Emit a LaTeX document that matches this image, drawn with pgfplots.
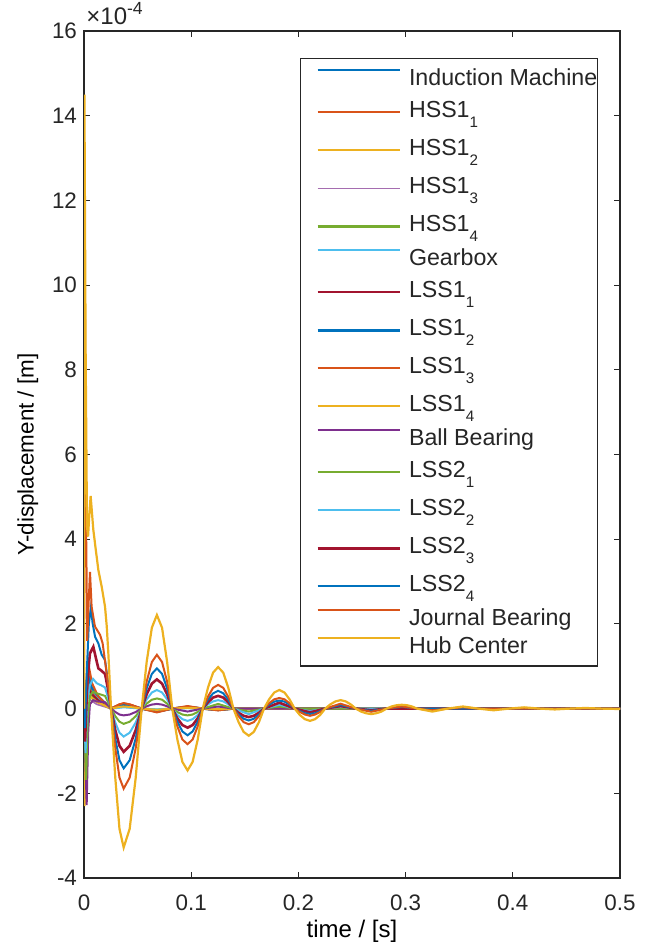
\documentclass[border=0pt]{standalone}
\usepackage{fontspec}
\setmainfont{Liberation Sans}
\usepackage{pgfplots}
\pgfplotsset{compat=1.18}
\definecolor{mblue}{rgb}{0,0.447,0.741}
\definecolor{morange}{rgb}{0.85,0.325,0.098}
\definecolor{myellow}{rgb}{0.929,0.694,0.125}
\definecolor{mpurple}{rgb}{0.494,0.184,0.556}
\definecolor{mgreen}{rgb}{0.466,0.674,0.188}
\definecolor{mcyan}{rgb}{0.301,0.745,0.933}
\definecolor{mred}{rgb}{0.635,0.078,0.184}
\newcommand{\fs}{\fontsize{11.2}{13}\selectfont}
\newcommand{\fx}{\fontsize{12}{14}\selectfont}
\newcommand{\fl}{\fontsize{11.6}{13}\selectfont}
\newcommand{\sE}[2]{#1\raisebox{-5pt}{\fontsize{7.6}{8}\selectfont #2}}
\tikzset{pl/.style={text height=10.5pt,text depth=3.5pt}, sb/.style={text height=12.5pt,text depth=6.5pt}}
\pgfplotsset{sbimg/.style={legend image post style={yshift=-4.5pt}}}
\begin{document}
\begin{tikzpicture}
\begin{axis}[
  scale only axis, width=268pt, height=423.5pt,
  xmin=0, xmax=0.5, ymin=-4, ymax=16,
  xtick={0,0.1,0.2,0.3,0.4,0.5}, xticklabels={0,0.1,0.2,0.3,0.4,0.5},
  ytick={-4,-2,0,2,4,6,8,10,12,14,16}, yticklabels={-4,-2,0,2,4,6,8,10,12,14,16},
  tick align=inside, tick pos=both, major tick length=3pt,
  tick style={black!85, line width=0.5pt},
  axis line style={black!85, line width=0.6pt},
  tick label style={font=\fs, text=black!85},
  xticklabel style={yshift=-5pt},
  label style={text=black!85},
  xlabel={time / [s]}, ylabel={Y-displacement / [m]},
  every axis x label/.style={at={(axis description cs:0.5,-0.0625)}, anchor=center, font=\fx},
  every axis y label/.style={at={(axis description cs:-0.105,0.5)}, rotate=90, anchor=center, font=\fs},
  legend style={at={(0.959,0.968)}, anchor=north east, draw=black!85, line width=0.7pt,
    font=\fl, text=black!85, inner xsep=0pt, inner ysep=2.75pt, row sep=0pt, column sep=4pt,
    nodes={inner sep=0pt}},
  legend cell align=left,
  legend image code/.code={\path[draw=none,fill=none] (0pt,0pt) -- (0pt,4pt); \draw[#1] (8.5pt,4pt) -- (49.5pt,4pt);},
  every axis plot/.append style={line width=1pt},
]
% Induction Machine
\addplot[mblue] coordinates {(0,0) (0.0007,-0.9) (0.002,0.3) (0.004,0.6) (0.007,0.35) (0.012,0.2) (0.018,0.12) (0.0252,0) (0.0331,0.08) (0.0370,0.10) (0.0426,0.08) (0.0538,0) (0.0680,-0.07) (0.0823,0) (0.0966,0.04) (0.1108,0) (0.1251,-0.03) (0.1394,0) (0.5,0)};
\addlegendentry[pl]{Induction Machine}
% HSS1_1
\addplot[morange, sbimg] coordinates {(0,0) (0.0006,-2.25) (0.0015,0.4) (0.003,0.9) (0.006,0.5) (0.012,0.25) (0.018,0.15) (0.0252,0) (0.0331,0.10) (0.0370,0.12) (0.0426,0.10) (0.0538,0) (0.0680,-0.08) (0.0823,0) (0.0966,0.05) (0.1108,0) (0.1251,-0.04) (0.1394,0) (0.5,0)};
\addlegendentry[sb]{\sE{HSS1}{1}}
% HSS1_2
\addplot[myellow, sbimg] coordinates {(0,0) (0.0006,-2.3) (0.0015,-0.2) (0.003,0.5) (0.006,0.3) (0.012,0.15) (0.018,0.1) (0.0252,0) (0.0331,0.06) (0.0370,0.08) (0.0426,0.06) (0.0538,0) (0.0680,-0.05) (0.0823,0) (0.0966,0.035) (0.1108,0) (0.1251,-0.02) (0.1394,0) (0.5,0)};
\addlegendentry[sb]{\sE{HSS1}{2}}
% HSS1_3
\addplot[mpurple!70, line width=0.8pt, sbimg] coordinates {(0,0) (0.001,-0.4) (0.003,0.3) (0.006,0.2) (0.012,0.1) (0.0252,0) (0.0331,0.05) (0.0370,0.06) (0.0426,0.05) (0.0538,0) (0.0680,-0.04) (0.0823,0) (0.0966,0.03) (0.1108,0) (0.1251,-0.02) (0.1394,0) (0.5,0)};
\addlegendentry[sb]{\sE{HSS1}{3}}
% HSS1_4
\addplot[mgreen, line width=1.2pt, sbimg] coordinates {(0,0) (0.001,-1.0) (0.0035,0.5) (0.0065,0.35) (0.012,0.2) (0.018,0.1) (0.0252,0) (0.0331,0.04) (0.0370,0.05) (0.0426,0.04) (0.0538,0) (0.0680,-0.03) (0.0823,0) (0.0966,0.02) (0.1108,0) (0.1251,-0.015) (0.1394,0) (0.5,0)};
\addlegendentry[sb]{\sE{HSS1}{4}}
% Gearbox
\addplot[mcyan] coordinates {(0,0) (0.0012,-0.7) (0.0035,0.75) (0.0055,0.7) (0.009,0.4) (0.014,0.25) (0.02,0.12) (0.0252,0) (0.0331,0.02) (0.0370,0.03) (0.0426,0.02) (0.0538,0) (0.0680,-0.02) (0.0823,0) (0.0966,0.01) (0.1108,0) (0.5,0)};
\addlegendentry[pl]{Gearbox}
% LSS1_1
\addplot[mred, line width=0.9pt, sbimg] coordinates {(0,0) (0.001,-0.5) (0.0035,0.5) (0.007,0.35) (0.013,0.2) (0.02,0.1) (0.0252,0) (0.0331,0.06) (0.0370,0.08) (0.0426,0.06) (0.0538,0) (0.0680,-0.05) (0.0823,0) (0.0966,0.035) (0.1108,0) (0.1251,-0.02) (0.1394,0) (0.5,0)};
\addlegendentry[sb]{\sE{LSS1}{1}}
% LSS1_2
\addplot[mblue, line width=1.2pt, sbimg] coordinates {(0,0) (0.0008,-0.3) (0.004,0.8) (0.007,0.5) (0.013,0.3) (0.02,0.12) (0.0252,0) (0.0331,0.08) (0.0370,0.10) (0.0426,0.08) (0.0538,0) (0.0680,-0.07) (0.0823,0) (0.0966,0.04) (0.1108,0) (0.1251,-0.03) (0.1394,0) (0.5,0)};
\addlegendentry[sb]{\sE{LSS1}{2}}
% LSS1_3
\addplot[morange, sbimg] coordinates {(0,0) (0.0008,-0.4) (0.0045,1.0) (0.0075,0.6) (0.013,0.3) (0.02,0.12) (0.0252,0) (0.0331,0.10) (0.0370,0.13) (0.0426,0.10) (0.0538,0) (0.0680,-0.09) (0.0823,0) (0.0966,0.06) (0.1108,0) (0.1251,-0.04) (0.1394,0) (0.5,0)};
\addlegendentry[sb]{\sE{LSS1}{3}}
% LSS1_4
\addplot[myellow, sbimg] coordinates {(0,0) (0.0006,-0.6) (0.003,0.4) (0.007,0.25) (0.013,0.15) (0.0252,0) (0.0331,0.04) (0.0370,0.05) (0.0426,0.04) (0.0538,0) (0.0680,-0.03) (0.0823,0) (0.0966,0.02) (0.1108,0) (0.1251,-0.015) (0.1394,0) (0.5,0)};
\addlegendentry[sb]{\sE{LSS1}{4}}
% Ball Bearing
\addplot[mpurple] coordinates {(0,0) (0.0025,-2.28) (0.004,-0.5) (0.0055,0.1) (0.0085,0.2) (0.0118,0.17) (0.016,0.16) (0.0196,0.15) (0.0225,0.07) (0.0252,0) (0.0292,-0.08) (0.0331,-0.14) (0.0370,-0.16) (0.0426,-0.14) (0.0482,-0.08) (0.0538,0) (0.0585,0.055) (0.0633,0.095) (0.0680,0.11) (0.0728,0.095) (0.0775,0.055) (0.0823,0) (0.0966,-0.07) (0.1108,0) (0.1251,0.05) (0.1394,0) (0.5,0)};
\addlegendentry[pl]{Ball Bearing}
% LSS2_1
\addplot[mgreen, sbimg] coordinates {(0,0) (0.002,-1.68) (0.0035,-0.2) (0.0055,0.3) (0.0085,0.4) (0.0118,0.36) (0.016,0.33) (0.0196,0.3) (0.0225,0.15) (0.0252,0) (0.0292,-0.18) (0.0331,-0.31) (0.0370,-0.36) (0.0426,-0.31) (0.0482,-0.18) (0.0538,0) (0.0585,0.12) (0.0633,0.21) (0.0680,0.24) (0.0728,0.21) (0.0775,0.12) (0.0823,0) (0.0871,-0.08) (0.0918,-0.14) (0.0966,-0.16) (0.1013,-0.14) (0.1061,-0.08) (0.1108,0) (0.1251,0.11) (0.1394,0) (0.1537,-0.07) (0.1679,0) (0.1822,0.05) (0.1965,0) (0.5,0)};
\addlegendentry[sb]{\sE{LSS2}{1}}
% LSS2_2
\addplot[mcyan, sbimg] coordinates {(0,0) (0.0015,-1.05) (0.003,0.2) (0.0055,0.55) (0.0085,0.7) (0.0118,0.6) (0.016,0.55) (0.0196,0.5) (0.0225,0.25) (0.0252,0) (0.0292,-0.33) (0.0331,-0.57) (0.0370,-0.66) (0.0426,-0.57) (0.0482,-0.33) (0.0538,0) (0.0585,0.22) (0.0633,0.38) (0.0680,0.44) (0.0728,0.38) (0.0775,0.22) (0.0823,0) (0.0871,-0.15) (0.0918,-0.25) (0.0966,-0.29) (0.1013,-0.25) (0.1061,-0.15) (0.1108,0) (0.1156,0.10) (0.1204,0.17) (0.1251,0.20) (0.1299,0.17) (0.1346,0.10) (0.1394,0) (0.1537,-0.13) (0.1679,0) (0.1822,0.09) (0.1965,0) (0.2108,-0.06) (0.2250,0) (0.2393,0.04) (0.2536,0) (0.5,0)};
\addlegendentry[sb]{\sE{LSS2}{2}}
% LSS2_3
\addplot[mred, line width=1.3pt, sbimg] coordinates {(0,0) (0.001,-0.78) (0.003,0.6) (0.0055,1.3) (0.0087,1.46) (0.0115,1.15) (0.0134,0.95) (0.016,0.9) (0.0196,0.82) (0.0225,0.45) (0.0252,0) (0.0292,-0.51) (0.0331,-0.88) (0.0370,-1.02) (0.0426,-0.88) (0.0482,-0.51) (0.0538,0) (0.0585,0.34) (0.0633,0.59) (0.0680,0.69) (0.0728,0.59) (0.0775,0.34) (0.0823,0) (0.0871,-0.23) (0.0918,-0.39) (0.0966,-0.45) (0.1013,-0.39) (0.1061,-0.23) (0.1108,0) (0.1156,0.15) (0.1204,0.26) (0.1251,0.30) (0.1299,0.26) (0.1346,0.15) (0.1394,0) (0.1442,-0.10) (0.1489,-0.17) (0.1537,-0.20) (0.1584,-0.17) (0.1632,-0.10) (0.1679,0) (0.1822,0.14) (0.1965,0) (0.2108,-0.09) (0.2250,0) (0.2393,0.06) (0.2536,0) (0.2679,-0.04) (0.2822,0) (0.5,0)};
\addlegendentry[sb]{\sE{LSS2}{3}}
% LSS2_4
\addplot[mblue, sbimg] coordinates {(0,0) (0.0008,-0.46) (0.0025,0.8) (0.0045,2.0) (0.0065,2.4) (0.0080,2.02) (0.0103,1.70) (0.0134,1.54) (0.0165,1.27) (0.0196,1.15) (0.0225,0.6) (0.0252,0) (0.0292,-0.71) (0.0331,-1.22) (0.0370,-1.41) (0.0426,-1.22) (0.0482,-0.71) (0.0538,0) (0.0585,0.48) (0.0633,0.82) (0.0680,0.95) (0.0728,0.82) (0.0775,0.48) (0.0823,0) (0.0871,-0.31) (0.0918,-0.54) (0.0966,-0.63) (0.1013,-0.54) (0.1061,-0.31) (0.1108,0) (0.1156,0.21) (0.1204,0.36) (0.1251,0.42) (0.1299,0.36) (0.1346,0.21) (0.1394,0) (0.1442,-0.14) (0.1489,-0.24) (0.1537,-0.28) (0.1584,-0.24) (0.1632,-0.14) (0.1679,0) (0.1727,0.095) (0.1775,0.165) (0.1822,0.19) (0.1870,0.165) (0.1917,0.095) (0.1965,0) (0.2013,-0.06) (0.2060,-0.11) (0.2108,-0.125) (0.2155,-0.11) (0.2203,-0.06) (0.2250,0) (0.2393,0.086) (0.2536,0) (0.2679,-0.056) (0.2822,0) (0.2964,0.04) (0.3107,0) (0.5,0)};
\addlegendentry[sb]{\sE{LSS2}{4}}
% Journal Bearing
\addplot[morange] coordinates {(0,0) (0.0005,12.0) (0.0015,5.5) (0.0030,1.6) (0.0045,2.6) (0.0056,3.23) (0.0071,2.41) (0.0102,1.94) (0.0150,1.74) (0.0174,1.54) (0.0211,0.84) (0.0252,0) (0.0292,-0.94) (0.0331,-1.63) (0.0370,-1.89) (0.0426,-1.63) (0.0482,-0.94) (0.0538,0) (0.0585,0.64) (0.0633,1.10) (0.0680,1.27) (0.0728,1.10) (0.0775,0.64) (0.0823,0) (0.0871,-0.42) (0.0918,-0.73) (0.0966,-0.84) (0.1013,-0.73) (0.1061,-0.42) (0.1108,0) (0.1156,0.28) (0.1204,0.49) (0.1251,0.56) (0.1299,0.49) (0.1346,0.28) (0.1394,0) (0.1442,-0.18) (0.1489,-0.32) (0.1537,-0.37) (0.1584,-0.32) (0.1632,-0.18) (0.1679,0) (0.1727,0.13) (0.1775,0.22) (0.1822,0.25) (0.1870,0.22) (0.1917,0.13) (0.1965,0) (0.2013,-0.08) (0.2060,-0.14) (0.2108,-0.17) (0.2155,-0.14) (0.2203,-0.08) (0.2250,0) (0.2393,0.115) (0.2536,0) (0.2679,-0.075) (0.2822,0) (0.2964,0.05) (0.3107,0) (0.3250,-0.04) (0.3393,0) (0.3535,0.03) (0.3678,0) (0.5,0)};
\addlegendentry[pl]{Journal Bearing}
% Hub Center
\addplot[myellow, line width=1.1pt] coordinates {(0,0) (0.0004,14.5) (0.0015,8.5) (0.0028,4.3) (0.0038,4.06) (0.0050,4.6) (0.0062,5.02) (0.0072,4.7) (0.0087,4.22) (0.0110,3.75) (0.0134,3.27) (0.0165,2.88) (0.0196,2.41) (0.0212,1.95) (0.0227,1.31) (0.0252,0) (0.0292,-1.64) (0.0331,-2.84) (0.0370,-3.28) (0.0426,-2.84) (0.0482,-1.64) (0.0538,0) (0.0585,1.11) (0.0633,1.91) (0.0680,2.21) (0.0728,1.91) (0.0775,1.11) (0.0823,0) (0.0871,-0.73) (0.0918,-1.26) (0.0966,-1.46) (0.1013,-1.26) (0.1061,-0.73) (0.1108,0) (0.1156,0.49) (0.1204,0.85) (0.1251,0.98) (0.1299,0.85) (0.1346,0.49) (0.1394,0) (0.1442,-0.32) (0.1489,-0.55) (0.1537,-0.64) (0.1584,-0.55) (0.1632,-0.32) (0.1679,0) (0.1727,0.22) (0.1775,0.38) (0.1822,0.44) (0.1870,0.38) (0.1917,0.22) (0.1965,0) (0.2013,-0.15) (0.2060,-0.25) (0.2108,-0.29) (0.2155,-0.25) (0.2203,-0.15) (0.2250,0) (0.2298,0.10) (0.2346,0.17) (0.2393,0.20) (0.2441,0.17) (0.2488,0.10) (0.2536,0) (0.2584,-0.07) (0.2631,-0.11) (0.2679,-0.13) (0.2726,-0.11) (0.2774,-0.07) (0.2822,0) (0.2869,0.05) (0.2917,0.08) (0.2964,0.09) (0.3012,0.08) (0.3059,0.05) (0.3107,0) (0.3250,-0.07) (0.3393,0) (0.3535,0.05) (0.3678,0) (0.3821,-0.04) (0.3964,0) (0.4106,0.03) (0.4249,0) (0.4392,-0.02) (0.4535,0) (0.4678,0.015) (0.4821,0) (0.5,-0.01)};
\addlegendentry[pl]{Hub Center}
\end{axis}
\node[anchor=base west, font=\fx, text=black!85, inner sep=0pt] at ([xshift=1pt,yshift=3pt]current axis.north west) {×10\raisebox{0.85ex}{\fontsize{8.8}{9}\selectfont -4}};
\pgfresetboundingbox
\path ([shift={(-42pt,-34pt)}]current axis.south west) rectangle ([shift={(15pt,15.5pt)}]current axis.north east);
\end{tikzpicture}
\end{document}
